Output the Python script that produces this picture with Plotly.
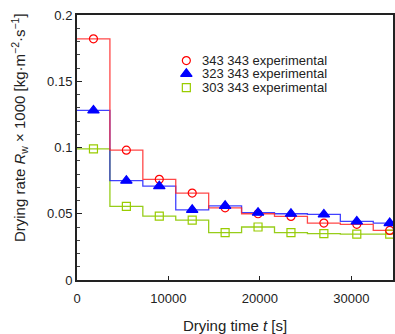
import plotly.graph_objects as go

# Measurement times (midpoints of 1-h intervals) [s]
time_s = [1800, 5400, 9000, 12600, 16200, 19800, 23400, 27000, 30600, 34200]
interval_s = 3600

# Drying rate Rw x 1000 [kg m^-2 s^-1]
rate_343 = [0.182, 0.098, 0.076, 0.0656, 0.0545, 0.0500, 0.0480, 0.0430, 0.0420, 0.0374]
rate_323 = [0.128, 0.075, 0.0708, 0.053, 0.056, 0.0508, 0.0500, 0.0495, 0.0442, 0.0430]
rate_303 = [0.099, 0.0555, 0.0482, 0.0452, 0.0357, 0.0400, 0.0357, 0.0350, 0.0346, 0.0346]

series_names = ["343 343 experimental", "323 343 experimental", "303 343 experimental"]
x_ticks = [0, 10000, 20000, 30000]
y_ticks = [0, 0.05, 0.1, 0.15, 0.2]

FONT = "Liberation Sans, Arial, sans-serif"
colors = {"343": "#ff0000", "323": "#0000ff", "303": "#99cc00"}
line_colors = {"343": "rgba(255,40,40,0.85)", "323": "rgba(0,0,255,0.75)", "303": "rgba(140,200,0,0.9)"}

def step_xy(times, vals):
    xs = [t - interval_s / 2 for t in times] + [times[-1] + interval_s / 2]
    ys = list(vals) + [vals[-1]]
    return xs, ys

fig = go.Figure()

series = [("343", rate_343, "circle-open", 8, 0),
          ("323", rate_323, "triangle-up", 10, 1),
          ("303", rate_303, "square-open", 8, 2)]

# step lines
for key, vals, sym, sz, i in [series[2], series[1], series[0]]:
    xs, ys = step_xy(time_s, vals)
    fig.add_trace(go.Scatter(x=xs, y=ys, mode="lines", line_shape="hv",
                             line=dict(color=line_colors[key], width=1.3),
                             showlegend=False, hoverinfo="skip", cliponaxis=True))

# markers
for key, vals, sym, sz, i in [series[2], series[0], series[1]]:
    fig.add_trace(go.Scatter(x=time_s, y=vals, mode="markers",
                             marker=dict(symbol=sym, size=sz, color=colors[key],
                                         line=dict(color=colors[key], width=1.2)),
                             showlegend=False, cliponaxis=False))

# custom legend (markers on overlay axes, text as annotations)
leg_y = [0.828, 0.778, 0.726]
for (key, vals, sym, sz, i), name in zip(series, series_names):
    fig.add_trace(go.Scatter(x=[0.346], y=[leg_y[i]], xaxis="x2", yaxis="y2", mode="markers",
                             marker=dict(symbol=sym, size=sz, color=colors[key],
                                         line=dict(color=colors[key], width=1.2)),
                             showlegend=False, hoverinfo="skip"))
    fig.add_annotation(x=0.39, y=leg_y[i], xref="paper", yref="paper", text=name,
                       showarrow=False, xanchor="left", yanchor="middle",
                       font=dict(family=FONT, size=13, color="#222"))

fig.add_annotation(x=-0.182, y=0.575, xref="paper", yref="paper", textangle=-90,
                   text="Drying rate <i>R</i><sub>w</sub> × 1000 [kg·m<sup>−2</sup>·s<sup>−1</sup>]",
                   showarrow=False, xanchor="center", yanchor="middle",
                   font=dict(family=FONT, size=15, color="#222"))

fig.update_layout(
    width=395, height=334,
    margin=dict(l=77, r=0, t=15, b=54),
    paper_bgcolor="white", plot_bgcolor="white",
    showlegend=False,
    xaxis=dict(range=[0, 34560], tickvals=x_ticks, ticktext=[str(v) for v in x_ticks],
               ticks="inside", ticklen=4, tickcolor="#222", tickwidth=1,
               ticklabelstandoff=5,
               showline=True, linecolor="#222", linewidth=2, mirror=True,
               showgrid=False, zeroline=False,
               tickfont=dict(family=FONT, size=13, color="#222"),
               title=dict(text="Drying time <i>t</i> [s]", standoff=16,
                          font=dict(family=FONT, size=15, color="#222"))),
    yaxis=dict(range=[0, 0.2], tickvals=y_ticks, ticktext=["0", "0.05", "0.1", "0.15", "0.2"],
               ticks="inside", ticklen=5, tickcolor="#222", tickwidth=1,
               minor=dict(dtick=0.01, ticks="inside", ticklen=3, tickcolor="#444"),
               showline=True, linecolor="#222", linewidth=2, mirror=True,
               showgrid=False, zeroline=False,
               tickfont=dict(family=FONT, size=13, color="#222")),
    xaxis2=dict(overlaying="x", range=[0, 1], visible=False),
    yaxis2=dict(overlaying="y", range=[0, 1], visible=False),
)

fig.write_html("out.html")
